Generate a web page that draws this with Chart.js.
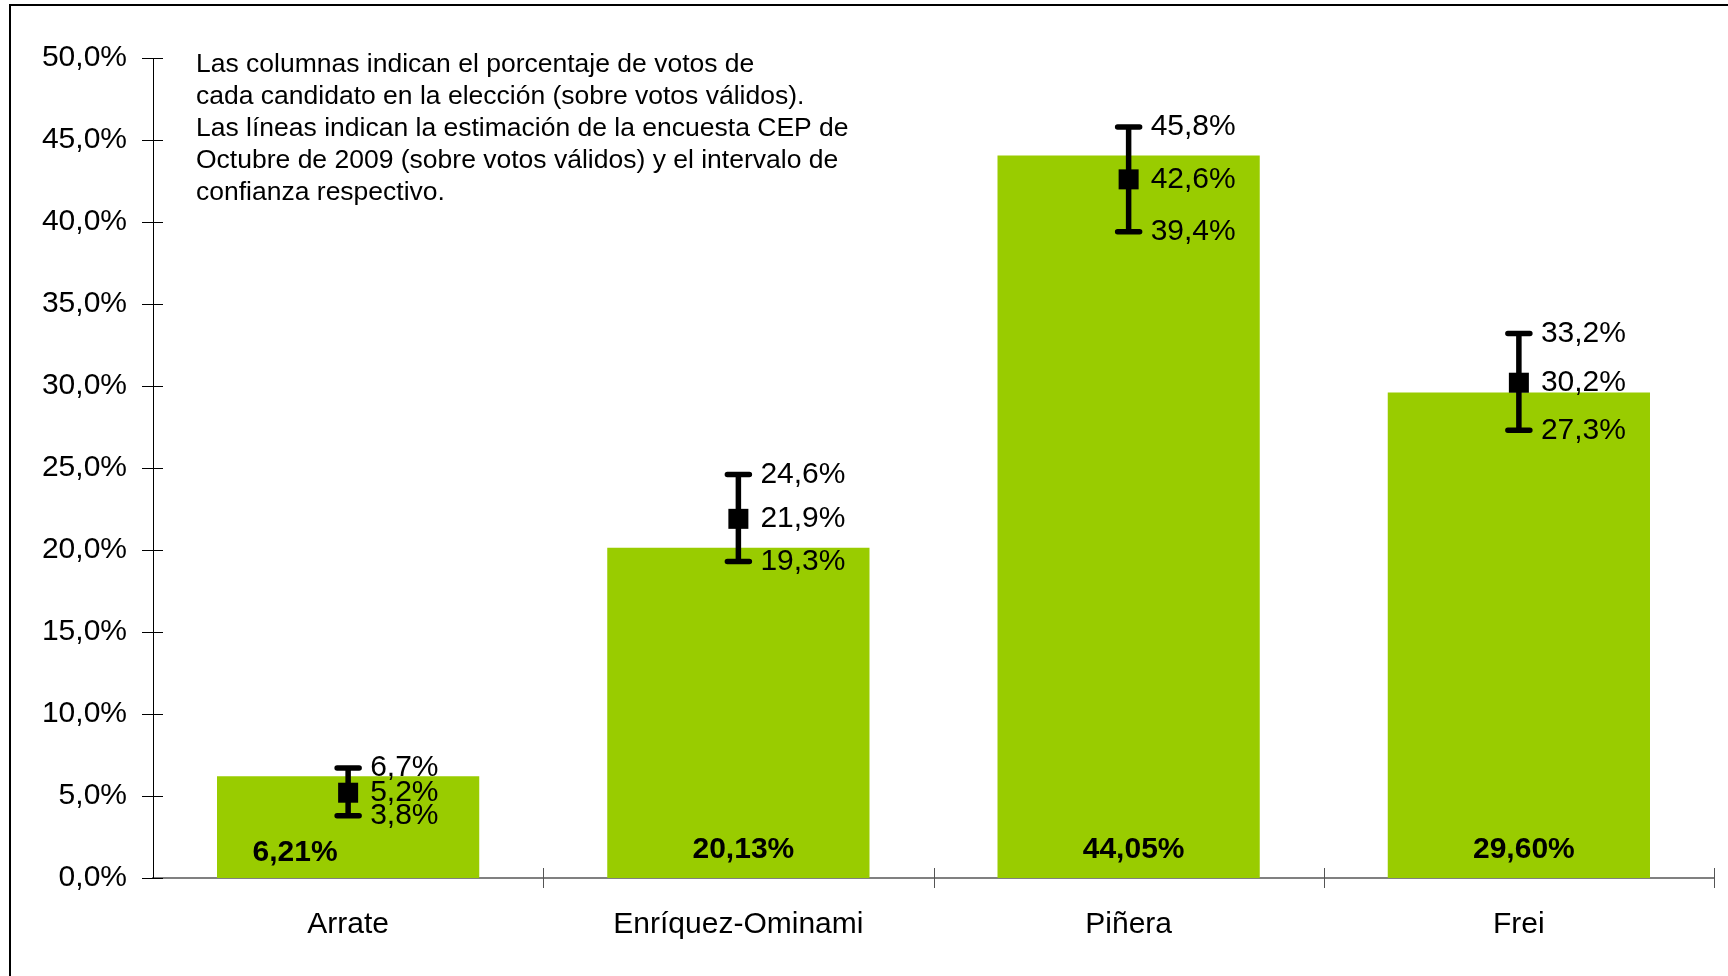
<!DOCTYPE html>
<html>
<head>
<meta charset="utf-8">
<script src="https://cdn.jsdelivr.net/npm/chart.js@4.4.1/dist/chart.umd.min.js"></script>
<style>
  html, body { margin: 0; padding: 0; background: #fff; }
  #wrap { width: 1728px; height: 976px; }
</style>
</head>
<body>
<div id="wrap"><canvas id="grafico" width="1728" height="976"></canvas></div>
<script>
// Datos del gráfico
const candidatos = ['Arrate', 'Enríquez-Ominami', 'Piñera', 'Frei'];
const votos = [6.21, 20.13, 44.05, 29.60];
const estimacion = [5.2, 21.9, 42.6, 30.2];
const limiteInferior = [3.8, 19.3, 39.4, 27.3];
const limiteSuperior = [6.7, 24.6, 45.8, 33.2];
const nota = [
  'Las columnas indican el porcentaje de votos de',
  'cada candidato en la elección (sobre votos válidos).',
  'Las líneas indican la estimación de la encuesta CEP de',
  'Octubre de 2009 (sobre votos válidos) y el intervalo de',
  'confianza respectivo.'
];

const fuente = "'Liberation Sans', Arial, sans-serif";
Chart.defaults.font.family = fuente;
Chart.defaults.color = '#000';

const fmt = (v, d) => v.toFixed(d).replace('.', ',') + '%';

// Marco, marcas de ejes, intervalos y etiquetas
const extras = {
  id: 'extras',
  beforeDraw(chart) {
    const ctx = chart.ctx;
    ctx.save();
    ctx.fillStyle = '#fff';
    ctx.fillRect(0, 0, chart.width, chart.height);
    ctx.strokeStyle = '#000';
    ctx.lineWidth = 2;
    ctx.beginPath();
    ctx.moveTo(10, chart.height);
    ctx.lineTo(10, 5);
    ctx.lineTo(chart.width, 5);
    ctx.stroke();
    ctx.restore();
  },
  afterDraw(chart) {
    const ctx = chart.ctx;
    const x = chart.scales.x, y = chart.scales.y;
    const area = chart.chartArea;
    ctx.save();

    // marcas eje Y
    ctx.strokeStyle = '#000';
    ctx.lineWidth = 1;
    for (let v = 0; v <= 50; v += 5) {
      const py = Math.round(y.getPixelForValue(v)) + 0.5;
      ctx.beginPath();
      ctx.moveTo(area.left - 11, py);
      ctx.lineTo(area.left + 10, py);
      ctx.stroke();
    }
    // separadores eje X
    ctx.strokeStyle = '#555';
    for (let i = 1; i <= candidatos.length; i++) {
      const px = i < candidatos.length
        ? (x.getPixelForValue(i - 1) + x.getPixelForValue(i)) / 2
        : area.right;
      ctx.beginPath();
      ctx.moveTo(Math.round(px) + 0.5, area.bottom - 10);
      ctx.lineTo(Math.round(px) + 0.5, area.bottom + 10);
      ctx.stroke();
    }

    // nota
    ctx.fillStyle = '#000';
    ctx.font = '26.5px ' + fuente;
    ctx.textBaseline = 'middle';
    ctx.textAlign = 'left';
    nota.forEach((t, i) => ctx.fillText(t, 196, 65 + i * 32));

    // etiquetas de barras
    ctx.font = 'bold 30px ' + fuente;
    ctx.textAlign = 'center';
    const barras = chart.getDatasetMeta(0).data;
    barras.forEach((b, i) => {
      const dx = i === 0 ? -53 : 5;
      ctx.fillText(fmt(votos[i], 2), b.x + dx, y.getPixelForValue(0) - 28 + (i === 0 ? 3 : 0));
    });

    // intervalos de confianza
    ctx.lineWidth = 5.5;
    ctx.strokeStyle = '#000';
    ctx.lineCap = 'round';
    ctx.font = '30px ' + fuente;
    ctx.textAlign = 'left';
    candidatos.forEach((c, i) => {
      const px = x.getPixelForValue(i);
      const yAlto = y.getPixelForValue(limiteSuperior[i]);
      const yBajo = y.getPixelForValue(limiteInferior[i]);
      const yEst = y.getPixelForValue(estimacion[i]);
      ctx.beginPath();
      ctx.moveTo(px, yAlto); ctx.lineTo(px, yBajo);
      ctx.moveTo(px - 11, yAlto); ctx.lineTo(px + 11, yAlto);
      ctx.moveTo(px - 11, yBajo); ctx.lineTo(px + 11, yBajo);
      ctx.stroke();
      ctx.fillRect(px - 10, yEst - 10, 20, 20);
      ctx.fillText(fmt(limiteSuperior[i], 1), px + 22, yAlto);
      ctx.fillText(fmt(estimacion[i], 1), px + 22, yEst);
      ctx.fillText(fmt(limiteInferior[i], 1), px + 22, yBajo);
    });
    ctx.restore();
  }
};

new Chart(document.getElementById('grafico'), {
  type: 'bar',
  data: {
    labels: candidatos,
    datasets: [{
      label: 'Votos',
      data: votos,
      backgroundColor: '#99CC00',
      borderWidth: 0,
      categoryPercentage: 1,
      barPercentage: 0.672
    }]
  },
  options: {
    responsive: false,
    animation: false,
    layout: { padding: { left: 10, right: 14, top: 58, bottom: 0 } },
    plugins: {
      legend: { display: false },
      tooltip: { enabled: false }
    },
    scales: {
      x: {
        grid: { display: false, drawTicks: false },
        border: { color: '#808080', width: 2 },
        ticks: { font: { size: 30 }, padding: 29 },
        afterFit(s) { s.height = 98; }
      },
      y: {
        min: 0,
        max: 50,
        grid: { display: false, drawTicks: false },
        border: { color: '#000', width: 1 },
        ticks: {
          stepSize: 5,
          padding: 26,
          font: { size: 30 },
          callback: v => fmt(v, 1)
        },
        afterFit(s) { s.width = 143; }
      }
    }
  },
  plugins: [extras]
});
</script>
</body>
</html>
